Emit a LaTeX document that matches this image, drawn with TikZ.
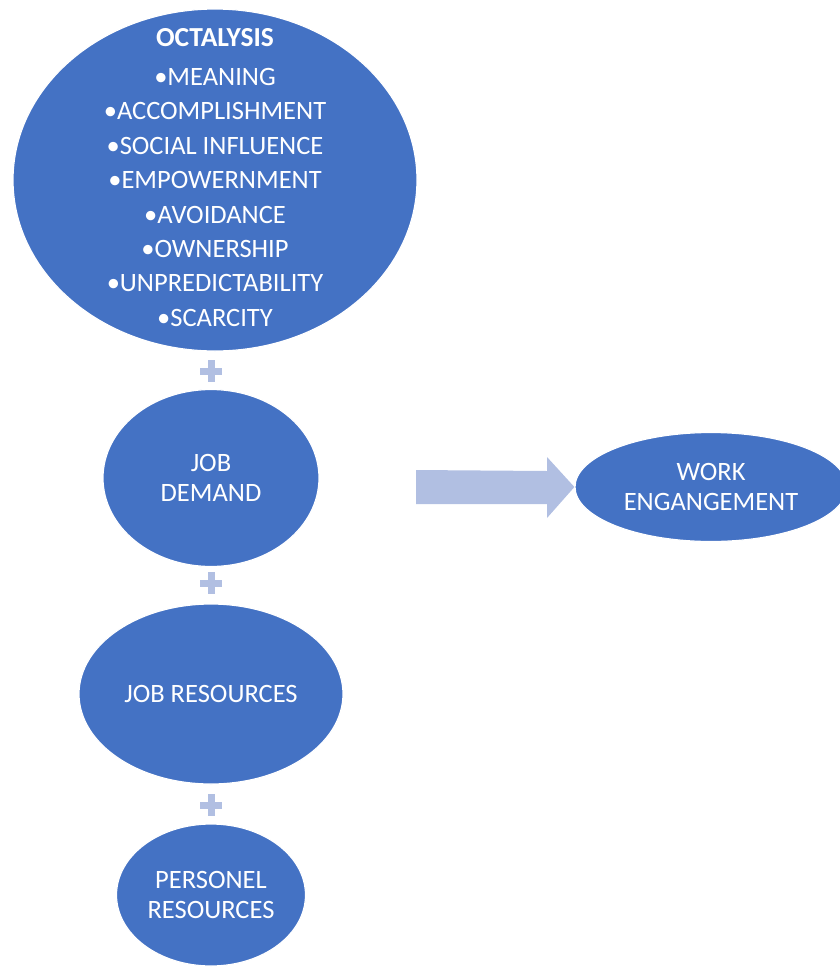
\documentclass[tikz,border=0pt]{standalone}
\usepackage{fontspec}
\setmainfont{Carlito}
\usetikzlibrary{shapes.geometric}
\definecolor{blob}{HTML}{4472C4}
\definecolor{pale}{HTML}{B1BFE2}
\begin{document}
\begin{tikzpicture}[x=1pt,y=-1pt,
  blobnode/.style={ellipse,fill=blob,draw=white,line width=1.2pt,text=white,align=center,inner sep=0pt,
    font=\fontsize{26.5}{29.5}\selectfont},
  plussign/.style={fill=pale}]
\useasboundingbox (0,0) rectangle (840,967);
% big ellipse
\node[blobnode,minimum width=404,minimum height=342] (oct) at (215,180) {};
\node[text=white,font=\fontsize{27.5}{30}\selectfont\bfseries] (t0) at (215,38) {OCTALYSIS};
\foreach \t [count=\i] in {MEANING,ACCOMPLISHMENT,SOCIAL INFLUENCE,EMPOWERNMENT,AVOIDANCE,OWNERSHIP,UNPREDICTABILITY,SCARCITY}
  \node[text=white,font=\fontsize{26.5}{30}\selectfont] (t\i) at (215,{77+34.4*(\i-1)}) {•\t};
% other ellipses
\node[blobnode,minimum width=216,minimum height=177] (jd) at (211,478) {JOB\\DEMAND};
\node[blobnode,minimum width=264,minimum height=180] (jr) at (211,694) {JOB RESOURCES};
\node[blobnode,minimum width=189,minimum height=142] (pr) at (211,895) {PERSONEL\\RESOURCES};
\node[blobnode,minimum width=272,minimum height=109] (we) at (711,487) {WORK\\ENGANGEMENT};
% plus signs
\foreach \y/\n in {371/p1,583/p2,805/p3}{
  \coordinate (\n) at (211,\y);
  \fill[plussign] ([xshift=-11,yshift=-3.5]\n) rectangle ([xshift=11,yshift=3.5]\n);
  \fill[plussign] ([xshift=-3.5,yshift=-11]\n) rectangle ([xshift=3.5,yshift=11]\n);
}
% arrow
\coordinate (atip) at (we.west);
\fill[pale] (416,470) -- (547,471) -- (547,457) -- (atip) -- (547,518) -- (547,504) -- (416,504) -- cycle;
\end{tikzpicture}
\end{document}
